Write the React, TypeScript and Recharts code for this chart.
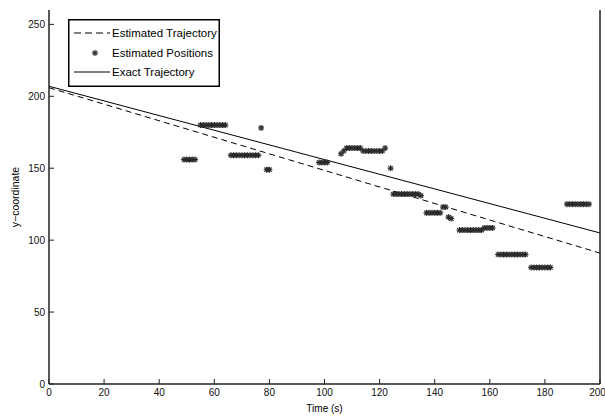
import React from "react"
import { ComposedChart, Line, Scatter, XAxis, YAxis, Legend } from "recharts"

// axis ticks
const timeTicks = [0, 20, 40, 60, 80, 100, 120, 140, 160, 180, 200]
const yTicks = [0, 50, 100, 150, 200, 250]

// straight trajectories (end points)
const exactTime = [0, 200]
const exactY = [207, 105]
const estTime = [0, 200]
const estY = [206, 91]

// estimated positions, one every second where the tracker reported
const posTime = [
  49, 50, 51, 52, 53,
  55, 56, 57, 58, 59, 60, 61, 62, 63, 64,
  66, 67, 68, 69, 70, 71, 72, 73, 74, 75, 76,
  77, 79, 80,
  98, 99, 100, 101,
  106, 107, 108, 109, 110, 111, 112, 113,
  114, 115, 116, 117, 118, 119, 120, 121, 122,
  124,
  125, 126, 127, 128, 129, 130, 131, 132, 133, 134, 135,
  137, 138, 139, 140, 141, 142,
  143, 144, 145, 146,
  149, 150, 151, 152, 153, 154, 155, 156, 157, 158, 159, 160, 161,
  163, 164, 165, 166, 167, 168, 169, 170, 171, 172, 173,
  175, 176, 177, 178, 179, 180, 181, 182,
  188, 189, 190, 191, 192, 193, 194, 195, 196,
]
const posY = [
  156, 156, 156, 156, 156,
  180, 180, 180, 180, 180, 180, 180, 180, 180, 180,
  159, 159, 159, 159, 159, 159, 159, 159, 159, 159, 159,
  178, 149, 149,
  154, 154, 154, 154,
  160, 162, 164, 164, 164, 164, 164, 164,
  162, 162, 162, 162, 162, 162, 162, 162, 164,
  150,
  132, 132, 132, 132, 132, 132, 132, 132, 132, 132, 131,
  119, 119, 119, 119, 119, 119,
  123, 123, 116, 115,
  107, 107, 107, 107, 107, 107, 107, 107, 107, 108.5, 108.5, 108.5, 108.5,
  90, 90, 90, 90, 90, 90, 90, 90, 90, 90, 90,
  81, 81, 81, 81, 81, 81, 81, 81,
  125, 125, 125, 125, 125, 125, 125, 125, 125,
]

const exactData = exactTime.map((x, i) => ({ x, y: exactY[i] }))
const estData = estTime.map((x, i) => ({ x, y: estY[i] }))
const posData = posTime.map((x, i) => ({ x, y: posY[i] }))

const FONT = "'Liberation Sans', Arial, sans-serif"
const AXIS = "#222"
const tickStyle = { fontSize: 10, fill: "#111", fontFamily: FONT }

function Star({ cx, cy }: any) {
  const r = 3
  const d = r * 0.72
  return (
    <g stroke="#2a2a2a" strokeWidth={1.2}>
      <line x1={cx - r} y1={cy} x2={cx + r} y2={cy} />
      <line x1={cx} y1={cy - r} x2={cx} y2={cy + r} />
      <line x1={cx - d} y1={cy - d} x2={cx + d} y2={cy + d} />
      <line x1={cx - d} y1={cy + d} x2={cx + d} y2={cy - d} />
    </g>
  )
}

function LegendBox() {
  const txt = { fontSize: 11.5, fontFamily: FONT, fill: "#000" }
  return (
    <svg width={152} height={68}>
      <rect x={0.75} y={0.75} width={150.5} height={66.5} fill="#fff" stroke="#000" strokeWidth={1.5} />
      <line x1={6} y1={14} x2={42} y2={14} stroke="#000" strokeDasharray="7 4" />
      <text x={44} y={18} {...txt}>Estimated Trajectory</text>
      <Star cx={27} cy={34} />
      <text x={44} y={38} {...txt}>Estimated Positions</text>
      <line x1={6} y1={53} x2={42} y2={53} stroke="#000" />
      <text x={44} y={57} {...txt}>Exact Trajectory</text>
    </svg>
  )
}

function YLabel() {
  return (
    <text x={15} y={197} transform="rotate(-90 15 197)" textAnchor="middle" dominantBaseline="central"
      style={{ fontSize: 10.5, fontFamily: FONT, fill: "#000" }}>
      y−coordinate
    </text>
  )
}

export default function App() {
  return (
    <div style={{ position: "absolute", left: 0, top: 0, width: 605, height: 416, background: "#fff" }}>
      <ComposedChart width={605} height={416} margin={{ top: 10, right: 0, bottom: 0, left: 0 }}>
        <XAxis dataKey="x" type="number" domain={[0, 200]} ticks={timeTicks} height={32}
          tick={tickStyle} tickSize={-5} tickMargin={10}
          axisLine={{ stroke: AXIS, strokeWidth: 1.5 }} tickLine={{ stroke: AXIS }}
          label={{ value: "Time (s)", position: "insideBottom", offset: 4, style: { fontSize: 10, fontFamily: FONT, fill: "#000" } }} />
        <XAxis xAxisId="top" orientation="top" type="number" domain={[0, 200]} ticks={timeTicks} height={0}
          tick={false} tickSize={-5} axisLine={{ stroke: AXIS, strokeWidth: 1.5 }} tickLine={{ stroke: AXIS }} />
        <YAxis dataKey="y" type="number" domain={[0, 260]} ticks={yTicks} width={49}
          tick={tickStyle} tickSize={-5} tickMargin={9}
          axisLine={{ stroke: AXIS, strokeWidth: 1.5 }} tickLine={{ stroke: AXIS }} label={<YLabel />} />
        <YAxis yAxisId="right" orientation="right" type="number" domain={[0, 260]} ticks={yTicks} width={5}
          tick={false} tickSize={-5} axisLine={{ stroke: AXIS, strokeWidth: 1.5 }} tickLine={{ stroke: AXIS }} />
        <Legend layout="vertical" align="center" verticalAlign="middle"
          wrapperStyle={{ left: 68, top: 19, width: 152, height: 68 }} content={() => <LegendBox />} />
        <Line data={estData} dataKey="y" type="linear" stroke="#000" strokeWidth={1} strokeDasharray="6 4"
          dot={false} activeDot={false} isAnimationActive={false} />
        <Line data={exactData} dataKey="y" type="linear" stroke="#000" strokeWidth={1}
          dot={false} activeDot={false} isAnimationActive={false} />
        <Scatter data={posData} dataKey="y" shape={<Star />} isAnimationActive={false} />
      </ComposedChart>
    </div>
  )
}
